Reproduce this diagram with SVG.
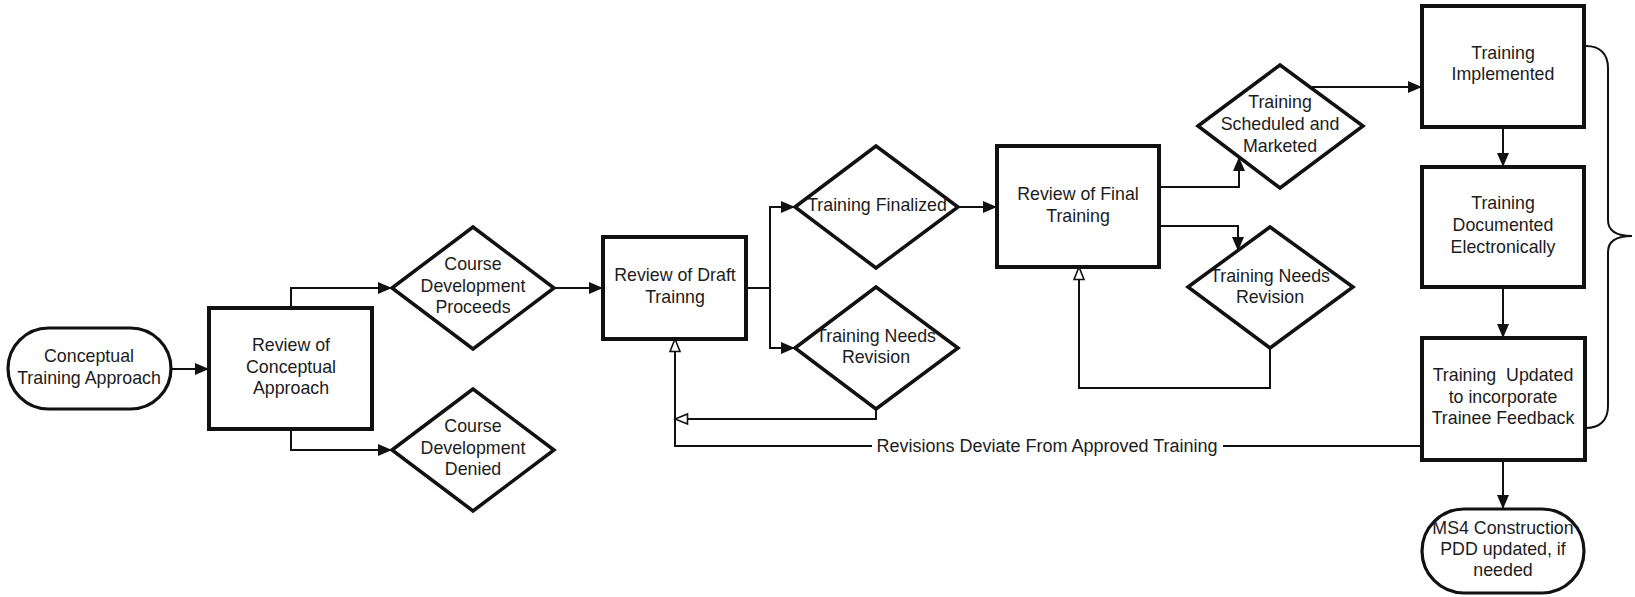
<svg xmlns="http://www.w3.org/2000/svg" width="1635" height="597" viewBox="0 0 1635 597">
  <defs>
    <marker id="arrow" markerUnits="userSpaceOnUse" markerWidth="14" markerHeight="12" refX="14" refY="6" orient="auto">
      <path d="M0,0 L14,6 L0,12 z" fill="#111"/>
    </marker>
    <marker id="open-arrow" markerUnits="userSpaceOnUse" markerWidth="16" markerHeight="14" refX="14" refY="7" orient="auto">
      <path d="M1.5,2 L14,7 L1.5,12 z" fill="#fff" stroke="#111" stroke-width="1.6"/>
    </marker>
    <style>
      .box { fill: #fff; stroke: #111; stroke-width: 4; }
      .dia { fill: #fff; stroke: #111; stroke-width: 3.5; stroke-linejoin: miter; }
      .term { fill: #fff; stroke: #111; stroke-width: 3.2; }
      .lbl { font-family: "Liberation Sans", Arial, sans-serif; font-size: 17.8px; fill: #1c1c1c; text-anchor: middle; }
      .edge { fill: none; stroke: #111; stroke-width: 2; }
      .flow { marker-end: url(#arrow); }
      .back { marker-end: url(#open-arrow); }
      .elbl { font-family: "Liberation Sans", Arial, sans-serif; font-size: 18px; fill: #1c1c1c; text-anchor: middle; }
    </style>
  </defs>
  <rect width="1635" height="597" fill="#fff"/>

  <!-- nodes -->
  <g id="conceptual-approach">
    <rect class="term" x="8" y="328" width="163" height="81" rx="40.5"/>
    <text class="lbl" x="89" y="362">Conceptual</text>
    <text class="lbl" x="89" y="384">Training Approach</text>
  </g>
  <g id="review-conceptual">
    <rect class="box" x="209" y="308" width="163" height="121"/>
    <text class="lbl" x="291" y="351">Review of</text>
    <text class="lbl" x="291" y="373">Conceptual</text>
    <text class="lbl" x="291" y="394">Approach</text>
  </g>
  <g id="dev-proceeds">
    <polygon class="dia" points="392,288 473,227 554,288 473,349"/>
    <text class="lbl" x="473" y="270">Course</text>
    <text class="lbl" x="473" y="292">Development</text>
    <text class="lbl" x="473" y="313">Proceeds</text>
  </g>
  <g id="dev-denied">
    <polygon class="dia" points="392,450 473,389 554,450 473,511"/>
    <text class="lbl" x="473" y="432">Course</text>
    <text class="lbl" x="473" y="454">Development</text>
    <text class="lbl" x="473" y="475">Denied</text>
  </g>
  <g id="review-draft">
    <rect class="box" x="603" y="237" width="143" height="102"/>
    <text class="lbl" x="675" y="281">Review of Draft</text>
    <text class="lbl" x="675" y="303">Trainng</text>
  </g>
  <g id="training-finalized">
    <polygon class="dia" points="795,207 876,146 958,207 876,268"/>
    <text class="lbl" x="877" y="211">Training Finalized</text>
  </g>
  <g id="needs-revision-draft">
    <polygon class="dia" points="795,348 876,287 958,348 876,409"/>
    <text class="lbl" x="876" y="342">Training Needs</text>
    <text class="lbl" x="876" y="363">Revision</text>
  </g>
  <g id="review-final">
    <rect class="box" x="997" y="146" width="162" height="121"/>
    <text class="lbl" x="1078" y="200">Review of Final</text>
    <text class="lbl" x="1078" y="222">Training</text>
  </g>
  <g id="scheduled-marketed">
    <polygon class="dia" points="1198,126 1280,65 1363,126 1280,188"/>
    <text class="lbl" x="1280" y="108">Training</text>
    <text class="lbl" x="1280" y="130">Scheduled and</text>
    <text class="lbl" x="1280" y="152">Marketed</text>
  </g>
  <g id="needs-revision-final">
    <polygon class="dia" points="1188,287 1270,227 1353,287 1270,348"/>
    <text class="lbl" x="1270" y="282">Training Needs</text>
    <text class="lbl" x="1270" y="303">Revision</text>
  </g>
  <g id="implemented">
    <rect class="box" x="1422" y="6" width="162" height="121"/>
    <text class="lbl" x="1503" y="59">Training</text>
    <text class="lbl" x="1503" y="80">Implemented</text>
  </g>
  <g id="documented">
    <rect class="box" x="1422" y="167" width="162" height="120"/>
    <text class="lbl" x="1503" y="209">Training</text>
    <text class="lbl" x="1503" y="231">Documented</text>
    <text class="lbl" x="1503" y="253">Electronically</text>
  </g>
  <g id="updated-feedback">
    <rect class="box" x="1422" y="338" width="163" height="122"/>
    <text class="lbl" x="1503" y="381" xml:space="preserve">Training  Updated</text>
    <text class="lbl" x="1503" y="403">to incorporate</text>
    <text class="lbl" x="1503" y="424">Trainee Feedback</text>
  </g>
  <g id="pdd-updated">
    <rect class="term" x="1422" y="509" width="162" height="84" rx="42"/>
    <text class="lbl" x="1503" y="534">MS4 Construction</text>
    <text class="lbl" x="1503" y="555">PDD updated, if</text>
    <text class="lbl" x="1503" y="576">needed</text>
  </g>

  <!-- brace grouping the delivery steps -->
  <g id="delivery-brace">
    <path class="edge" d="M1586,46 C1600,46 1608,54 1608,68 L1608,220 C1608,231 1616,236 1632,236 C1616,236 1608,241 1608,252 L1608,406 C1608,420 1600,428 1586,428"/>
  </g>

  <!-- connectors -->
  <g id="connectors">
    <path class="edge flow" d="M171,369 H209"/>
    <path class="edge flow" d="M291,308 V288 H392"/>
    <path class="edge flow" d="M291,429 V450 H392"/>
    <path class="edge flow" d="M554,288 H603"/>
    <path class="edge flow" d="M746,288 H770 V207 H795"/>
    <path class="edge flow" d="M770,288 V348 H795"/>
    <path class="edge flow" d="M958,207 H997"/>
    <path class="edge flow" d="M1159,187 H1239 V157"/>
    <path class="edge flow" d="M1159,226 H1238 V251"/>
    <path class="edge flow" d="M1312,87 H1422"/>
    <path class="edge flow" d="M1503,127 V167"/>
    <path class="edge flow" d="M1503,287 V338"/>
    <path class="edge flow" d="M1503,460 V509"/>
    <path class="edge back" d="M876,409 V419 H675"/>
    <path class="edge back" d="M1270,348 V388 H1079 V267"/>
    <path class="edge back" d="M1422,446 H675 V339"/>
    <rect x="872" y="436" width="351" height="22" fill="#fff"/>
    <text class="elbl" x="1047" y="452">Revisions Deviate From Approved Training</text>
  </g>
</svg>
